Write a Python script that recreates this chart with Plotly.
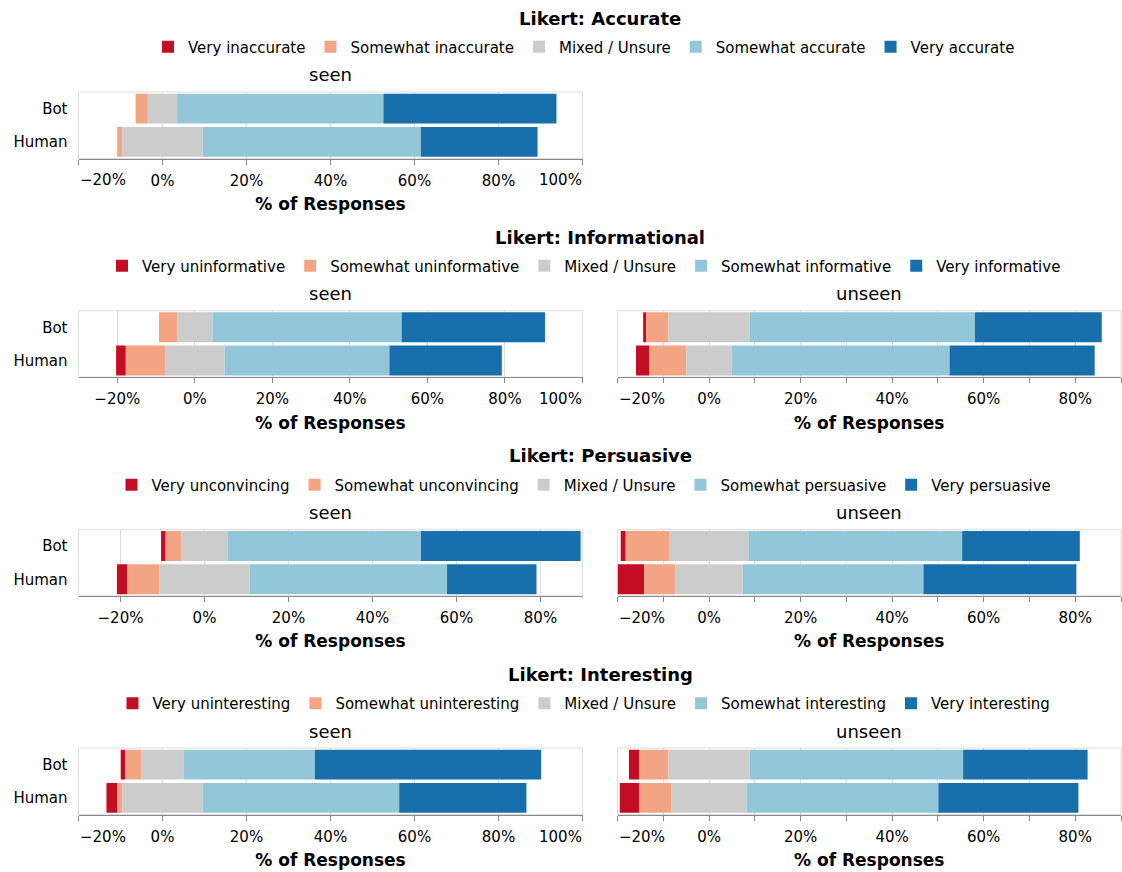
import math
import plotly.graph_objects as go

# ---------------- data ----------------
categories = ["Bot", "Human"]
colors = ["#c30d24", "#f3a583", "#cccccc", "#94c6da", "#1770ab"]

accurate_levels = ["Very inaccurate", "Somewhat inaccurate", "Mixed / Unsure",
                   "Somewhat accurate", "Very accurate"]
informational_levels = ["Very uninformative", "Somewhat uninformative", "Mixed / Unsure",
                        "Somewhat informative", "Very informative"]
persuasive_levels = ["Very unconvincing", "Somewhat unconvincing", "Mixed / Unsure",
                     "Somewhat persuasive", "Very persuasive"]
interesting_levels = ["Very uninteresting", "Somewhat uninteresting", "Mixed / Unsure",
                      "Somewhat interesting", "Very interesting"]

# percentages per level (very neg, somewhat neg, mixed, somewhat pos, very pos)
accurate_seen_bot = [0.0, 2.9, 7.0, 49.1, 41.2]
accurate_seen_human = [0.0, 1.2, 19.2, 51.9, 27.8]

informational_seen_bot = [0.0, 4.7, 9.1, 48.8, 37.0]
informational_seen_human = [2.5, 10.1, 15.4, 42.5, 29.0]
informational_unseen_bot = [0.7, 4.8, 17.8, 49.2, 27.7]
informational_unseen_human = [2.9, 8.1, 9.9, 47.6, 31.7]

persuasive_seen_bot = [1.1, 3.7, 11.1, 46.0, 38.0]
persuasive_seen_human = [2.5, 7.6, 21.5, 47.0, 21.3]
persuasive_unseen_bot = [1.1, 9.6, 17.2, 46.7, 25.7]
persuasive_unseen_human = [5.8, 6.8, 14.7, 39.5, 33.4]

interesting_seen_bot = [1.1, 3.8, 10.1, 31.2, 53.9]
interesting_seen_human = [2.6, 1.2, 19.1, 46.8, 30.3]
interesting_unseen_bot = [2.2, 6.4, 17.8, 46.6, 27.2]
interesting_unseen_human = [4.2, 7.1, 16.4, 41.9, 30.6]

row_titles = ["Likert: Accurate", "Likert: Informational", "Likert: Persuasive", "Likert: Interesting"]
row_levels = [accurate_levels, informational_levels, persuasive_levels, interesting_levels]
# (row, column name, bot values, human values)
panels = [
    (0, "seen", accurate_seen_bot, accurate_seen_human),
    (1, "seen", informational_seen_bot, informational_seen_human),
    (1, "unseen", informational_unseen_bot, informational_unseen_human),
    (2, "seen", persuasive_seen_bot, persuasive_seen_human),
    (2, "unseen", persuasive_unseen_bot, persuasive_unseen_human),
    (3, "seen", interesting_seen_bot, interesting_seen_human),
    (3, "unseen", interesting_unseen_bot, interesting_unseen_human),
]

# ---------------- layout helpers ----------------
W, H = 1122, 872
FONT = "DejaVu Sans"


def fx(p):
    return p / W


def fy(p):
    return 1 - p / H


col_dom = {"seen": [fx(78.5), fx(582.5)], "unseen": [fx(617.5), fx(1121)]}
col_px = {"seen": (78.5, 582.5), "unseen": (617.5, 1121)}
row_top = [92.0, 310.7, 529.4, 748.0]
PLOT_H = 66.5
title_y = [18, 237, 455.5, 674]
legend_y = [47, 266, 485, 703.5]
sub_y = [75, 293.5, 512, 731]


def tick_step(lo, hi, count=8):
    step0 = (hi - lo) / count
    power = math.floor(math.log10(step0))
    err = step0 / 10 ** power
    if err >= math.sqrt(50):
        f = 10
    elif err >= math.sqrt(10):
        f = 5
    elif err >= math.sqrt(2):
        f = 2
    else:
        f = 1
    return f * 10 ** power


def fmt(v):
    s = f"{abs(v):.0f}%"
    return ("\u2212" + s) if v < 0 else s


legend_names = ["legend", "legend2", "legend3", "legend4"]
tick_font = dict(family=FONT, size=15, color="#000")

fig = go.Figure()
layout = dict(
    width=W, height=H,
    margin=dict(l=0, r=0, t=0, b=0, pad=0, autoexpand=False),
    paper_bgcolor="white", plot_bgcolor="white",
    barmode="overlay", bargap=0.1,
    font=dict(family=FONT, size=15, color="#000"),
    showlegend=True,
)
annotations = []
shapes = []

row_has_legend = set()
for idx, (row, col, bot, human) in enumerate(panels):
    n = idx + 1
    xa = "x" if n == 1 else f"x{n}"
    ya = "y" if n == 1 else f"y{n}"
    # stacked diverging starts (neutral category centred on zero)
    starts_b = -(bot[0] + bot[1] + bot[2] / 2)
    starts_h = -(human[0] + human[1] + human[2] / 2)
    cur = [starts_b, starts_h]
    first = row not in row_has_legend
    row_has_legend.add(row)
    for i in range(5):
        widths = [bot[i], human[i]]
        fig.add_trace(go.Bar(
            y=categories, x=widths, base=list(cur), orientation="h",
            name=row_levels[row][i], marker=dict(color=colors[i], line=dict(width=0)),
            xaxis=xa, yaxis=ya, showlegend=first, legend=legend_names[row],
            hoverinfo="skip",
        ))
        cur = [cur[0] + widths[0], cur[1] + widths[1]]
    lo_v = min(starts_b, starts_h)
    hi_v = max(cur)
    lo = math.floor(lo_v / 10) * 10
    hi = math.ceil(hi_v / 10) * 10
    step = tick_step(lo, hi)
    first_tick = math.ceil(lo / step) * step
    tvals = []
    v = first_tick
    while v <= hi + 1e-9:
        tvals.append(v)
        v += step
    px_per = (col_px[col][1] - col_px[col][0]) / (hi - lo)
    parity = 2 if step * px_per < 60 else 1
    ttext = []
    for k, tv in enumerate(tvals):
        if k % parity != 0:
            ttext.append("")
            continue
        s = fmt(tv)
        at_lo = abs(tv - lo) < 1e-9
        at_hi = abs(tv - hi) < 1e-9
        if at_lo or at_hi:
            # flush label at the end of the axis range
            ttext.append("")
            annotations.append(dict(
                text=s, xref=f"{xa} domain", yref=f"{ya} domain",
                x=0 if at_lo else 1, y=0, xanchor="left" if at_lo else "right",
                yanchor="middle", yshift=-22, showarrow=False, font=tick_font,
                borderpad=0,
            ))
        else:
            ttext.append(s)

    top = row_top[row]
    bottom = top + PLOT_H
    layout["xaxis" if n == 1 else f"xaxis{n}"] = dict(
        domain=col_dom[col], anchor=ya, range=[lo, hi], automargin=False,
        tickmode="array", tickvals=tvals, ticktext=ttext,
        showline=True, linecolor="#888", linewidth=1,
        ticks="outside", ticklen=5, tickcolor="#888", tickwidth=1,
        showgrid=True, gridcolor="#dddddd", gridwidth=1, zeroline=False,
        tickfont=tick_font,
        ticklabelstandoff=3,
        title=dict(text="<b>% of Responses</b>", font=dict(family=FONT, size=17, color="#000"),
                   standoff=9),
        fixedrange=True,
    )
    layout["yaxis" if n == 1 else f"yaxis{n}"] = dict(
        domain=[fy(bottom), fy(top)], anchor=xa, type="category", automargin=False,
        categoryorder="array", categoryarray=categories,
        range=[1.5, -0.5], showgrid=False, showline=False, zeroline=False,
        ticks="", showticklabels=(col == "seen"), ticklabelstandoff=10,
        tickfont=tick_font, fixedrange=True,
    )
    shapes.append(dict(type="rect", xref=f"{xa} domain", yref=f"{ya} domain",
                       x0=0, x1=1, y0=0, y1=1, line=dict(color="#dddddd", width=1),
                       layer="below"))
    annotations.append(dict(
        text=col, x=(col_dom[col][0] + col_dom[col][1]) / 2, y=fy(sub_y[row]),
        xref="paper", yref="paper", xanchor="center", yanchor="middle",
        showarrow=False, font=dict(family=FONT, size=18, color="#000"),
    ))

for r in range(4):
    annotations.append(dict(
        text=f"<b>{row_titles[r]}</b>", x=fx(600), y=fy(title_y[r]),
        xref="paper", yref="paper", xanchor="center", yanchor="middle",
        showarrow=False, font=dict(family=FONT, size=18, color="#000"),
    ))
    layout[legend_names[r]] = dict(
        orientation="h", x=fx(584), xanchor="center", y=fy(legend_y[r]), yanchor="middle",
        bgcolor="rgba(0,0,0,0)", font=dict(family=FONT, size=15, color="#000"),
        traceorder="normal", itemclick=False, itemdoubleclick=False,
    )

layout["annotations"] = annotations
layout["shapes"] = shapes
fig.update_layout(**layout)
fig.write_html("out.html", config={"displayModeBar": False},
               post_script="document.body.style.margin='0';")
